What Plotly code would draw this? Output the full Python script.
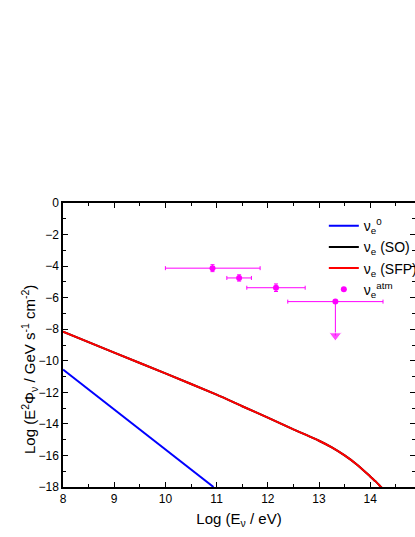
import plotly.graph_objects as go

# curves: log10(E/eV) vs log10(E^2 Phi)
nu0_x = [8.0, 9.5, 10.94]
nu0_y = [-10.55, -14.35, -18.0]

sfp_x = [8.0, 9.0, 10.0, 11.0, 11.5, 12.0, 12.5, 12.75, 13.0, 13.25, 13.5, 13.75, 14.0, 14.1, 14.21, 14.24]
sfp_y = [-8.15, -9.48, -10.8, -12.15, -12.88, -13.6, -14.35, -14.7, -15.07, -15.49, -16.0, -16.6, -17.33, -17.63, -18.0, -18.1]

# SO curve lies under the SFP one
so_x = sfp_x
so_y = sfp_y

# atmospheric nu_e data points
atm_x = [10.92, 11.44, 12.16]
atm_y = [-4.13, -4.75, -5.37]
atm_xlo = [0.92, 0.24, 0.57]
atm_xhi = [0.93, 0.24, 0.57]
atm_yerr = [0.22, 0.2, 0.24]

# upper limit point
lim_x = [13.32]
lim_y = [-6.25]
lim_xlo = [0.93]
lim_xhi = [0.93]
lim_end = [-8.4]

MAGENTA = '#FF00FF'

fig = go.Figure()

fig.add_trace(go.Scatter(
    x=nu0_x, y=nu0_y, mode='lines',
    line=dict(color='#0000FF', width=2),
    name='ν<sub>e</sub><sup>0</sup>'
))
fig.add_trace(go.Scatter(
    x=so_x, y=so_y, mode='lines',
    line=dict(color='#000000', width=2, shape='spline', smoothing=0.6),
    name='ν<sub>e</sub> (SO)'
))
fig.add_trace(go.Scatter(
    x=sfp_x, y=sfp_y, mode='lines',
    line=dict(color='#FF0000', width=2, shape='spline', smoothing=0.6),
    name='ν<sub>e</sub> (SFP)'
))
fig.add_trace(go.Scatter(
    x=atm_x, y=atm_y, mode='markers',
    marker=dict(color=MAGENTA, size=6),
    error_x=dict(type='data', array=atm_xhi, arrayminus=atm_xlo,
                 color=MAGENTA, thickness=1, width=2),
    error_y=dict(type='data', array=atm_yerr,
                 color=MAGENTA, thickness=1, width=2),
    name='ν<sub>e</sub><sup>atm</sup>'
))
fig.add_trace(go.Scatter(
    x=lim_x, y=lim_y, mode='markers',
    marker=dict(color=MAGENTA, size=6),
    error_x=dict(type='data', array=lim_xhi, arrayminus=lim_xlo,
                 color=MAGENTA, thickness=1, width=2),
    showlegend=False
))
# downward arrow for the upper limit
fig.add_trace(go.Scatter(
    x=[lim_x[0], lim_x[0]], y=[lim_y[0], lim_end[0]],
    mode='lines+markers',
    line=dict(color=MAGENTA, width=1),
    marker=dict(color=MAGENTA, size=[0, 11], symbol='triangle-down'),
    showlegend=False
))

axis_common = dict(
    showline=True, linecolor='black', linewidth=1.5, mirror='ticks',
    ticks='inside', ticklen=5, tickcolor='black', tickwidth=1,
    showgrid=False, zeroline=False,
    tickfont=dict(size=12, color='black'),
)

fig.update_xaxes(
    range=[8, 14.875], dtick=1,
    minor=dict(ticks='inside', dtick=0.5, ticklen=3, tickcolor='black'),
    title=dict(text='Log (E<sub>ν</sub> / eV)', font=dict(size=15, color='black'), standoff=8),
    **axis_common
)
fig.update_yaxes(
    range=[-18, 0], dtick=2,
    minor=dict(ticks='inside', dtick=1, ticklen=3, tickcolor='black'),
    **axis_common
)

# y title sits a bit below the middle of the axis in the original
fig.add_annotation(
    text='Log (E<sup>2</sup>Φ<sub>ν</sub> / GeV s<sup>-1</sup> cm<sup>-2</sup>)',
    xref='paper', yref='paper', x=-0.097, y=0.415,
    xanchor='center', yanchor='middle', textangle=-90,
    showarrow=False, font=dict(size=15, color='black')
)

# figure runs past the window on the right so the frame is cut there,
# like in the original
fig.update_layout(
    width=500, height=537,
    margin=dict(t=203, b=46, l=63, r=85),
    plot_bgcolor='white', paper_bgcolor='white',
    font=dict(family='Liberation Sans, Arial, sans-serif', color='black'),
    legend=dict(x=0.741, y=0.975, xanchor='left', yanchor='top',
                bgcolor='rgba(0,0,0,0)', font=dict(size=14),
                itemwidth=30, tracegroupgap=0),
)

# no page margin and no scrollbars
fig.write_html("out.html",
               config={'displayModeBar': False},
               post_script="document.body.style.margin='0';document.body.style.overflow='hidden';")
